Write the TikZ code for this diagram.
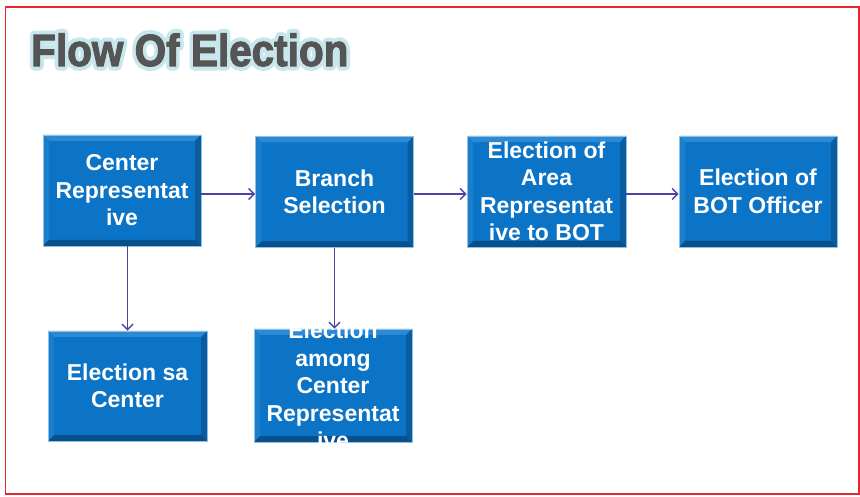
\documentclass[tikz,border=0pt]{standalone}
\usepackage{fontspec}
\setmainfont{Liberation Sans}
\usetikzlibrary{arrows.meta}
\definecolor{boxmain}{HTML}{0C74C6}
\definecolor{bevtop}{HTML}{2C8AD4}
\definecolor{bevleft}{HTML}{1A7ECB}
\definecolor{bevright}{HTML}{0A5C9E}
\definecolor{bevbottom}{HTML}{084F8C}
\definecolor{boxedge}{HTML}{8DC2E6}
\definecolor{arrowcol}{HTML}{4E44A0}
\definecolor{framecol}{HTML}{E8262B}
\definecolor{titlecol}{HTML}{555555}
\definecolor{glowcol}{HTML}{C8E7EC}
\newcommand{\glowtext}[1]{\rlap{\color{glowcol}\special{pdf:literal direct 1 Tr 1 j 9 w}#1\special{pdf:literal direct 0 Tr 0 j 0.3985 w}}\special{pdf:literal direct 2 Tr 1.1 w}#1\special{pdf:literal direct 0 Tr 0.3985 w}}
\tikzset{
  flowbox/.style={minimum width=158pt, minimum height=111pt, inner sep=0pt,
    fill=boxmain, draw=boxedge, line width=0.8pt,
    text=white, font=\fontsize{23}{27.5}\selectfont\bfseries, align=center,
    path picture={
      \fill[bevtop] (path picture bounding box.north west) -- (path picture bounding box.north east)
        -- ([shift={(-6pt,-6pt)}]path picture bounding box.north east) -- ([shift={(6pt,-6pt)}]path picture bounding box.north west) -- cycle;
      \fill[bevleft] (path picture bounding box.north west) -- (path picture bounding box.south west)
        -- ([shift={(6pt,6pt)}]path picture bounding box.south west) -- ([shift={(6pt,-6pt)}]path picture bounding box.north west) -- cycle;
      \fill[bevright] (path picture bounding box.north east) -- (path picture bounding box.south east)
        -- ([shift={(-6pt,6pt)}]path picture bounding box.south east) -- ([shift={(-6pt,-6pt)}]path picture bounding box.north east) -- cycle;
      \fill[bevbottom] (path picture bounding box.south west) -- (path picture bounding box.south east)
        -- ([shift={(-6pt,6pt)}]path picture bounding box.south east) -- ([shift={(6pt,6pt)}]path picture bounding box.south west) -- cycle;
    }},
  boxtext/.style={text=white, font=\fontsize{23}{27.5}\selectfont\bfseries, align=center, inner sep=0pt},
  flowarrow/.style={draw=arrowcol, line width=1.4pt, -{Straight Barb[length=5.5pt,width=11pt,line width=1.4pt]}},
  titlefont/.style={font=\fontsize{45}{50}\selectfont\bfseries, inner sep=0pt, anchor=base west, xscale=0.9}
}
\begin{document}
\begin{tikzpicture}[x=1pt,y=1pt]
\useasboundingbox (0,0) rectangle (860,496);
\fill[white] (0,0) rectangle (860,496);
\draw[framecol, line width=1.6pt] (5.5,2) rectangle (859.2,489);

% title with glow
\node[titlefont, text=titlecol] (title) at (31,430) {\glowtext{Flow Of Election}};

% boxes
\node[flowbox] (b1) at (122,305.5) {Center\\Representat\\ive};
\node[flowbox] (b2) at (334.5,304) {Branch\\Selection};
\node[flowbox, minimum width=159pt] (b3) at (546.5,304.5) {Election of\\Area\\Representat\\ive to BOT};
\node[flowbox] (b4) at (758,304.5) {Election of\\BOT Officer};
\node[flowbox, minimum width=159pt, minimum height=110pt] (b5) at (127.5,110) {Election sa\\Center};
\node[flowbox, minimum height=113pt] (b6) at (333,110.5) {};
\node[boxtext] (b6t) at (b6.center) {Election\\among\\Center\\Representat\\ive};

% connectors
\draw[flowarrow] ([yshift=-3.5pt]b1.east) -- ([yshift=-2pt]b2.west);
\draw[flowarrow] ([yshift=-2pt]b2.east) -- ([yshift=-2.5pt]b3.west);
\draw[flowarrow] ([yshift=-2.5pt]b3.east) -- ([yshift=-2.5pt]b4.west);
\draw[flowarrow] (b1.south -| b5.north) -- (b5.north);
\draw[flowarrow] (b2.south) -- (b2.south |- b6.north);
\end{tikzpicture}
\end{document}
